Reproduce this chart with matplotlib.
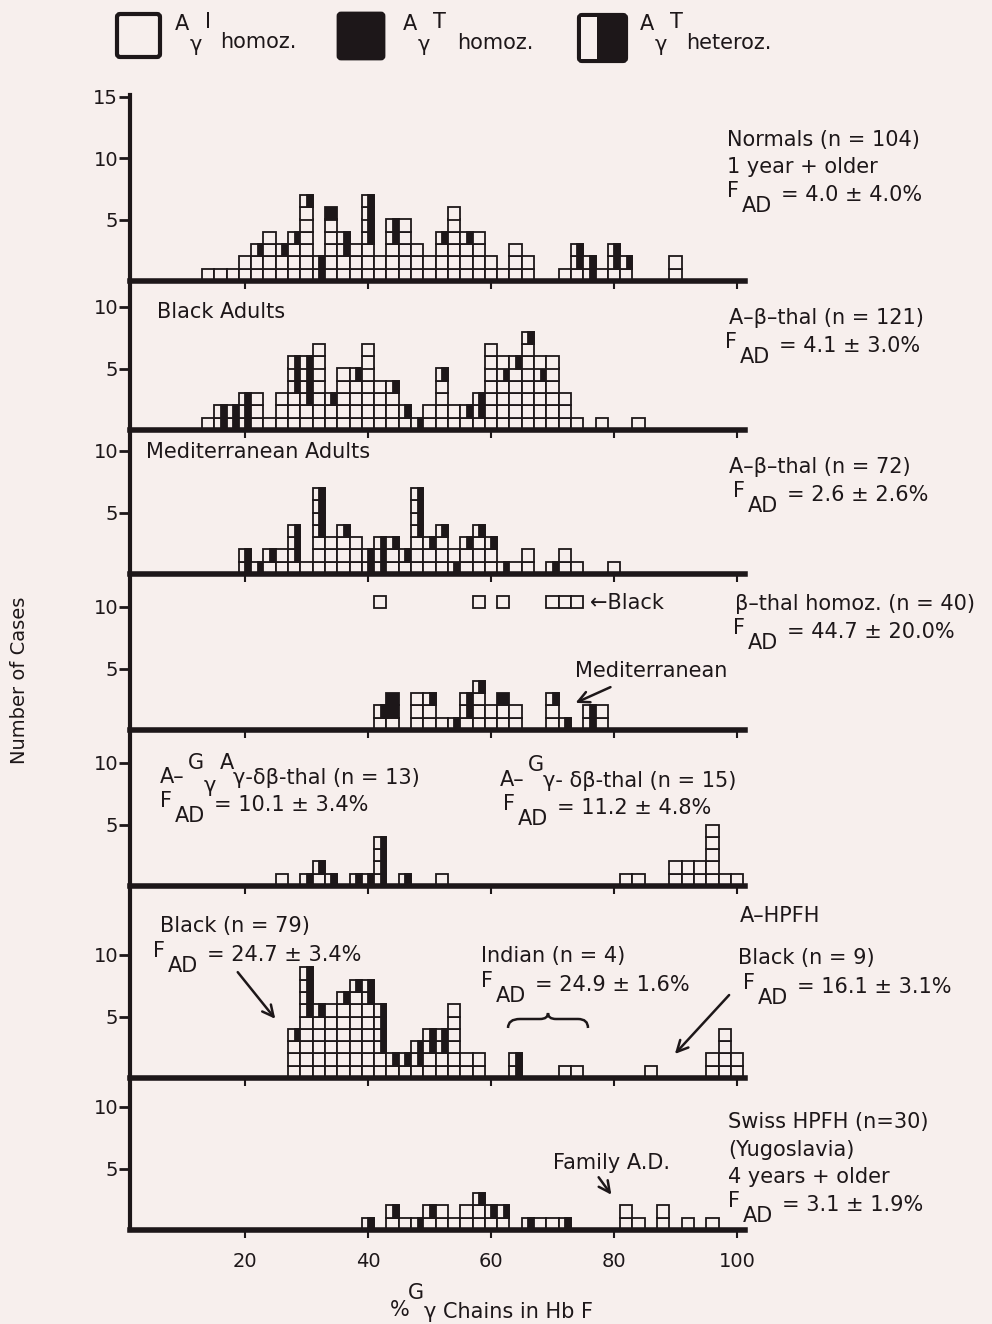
import matplotlib.pyplot as plt
from matplotlib.patches import Rectangle, FancyBboxPatch, PathPatch
from matplotlib.path import Path

plt.rcParams['font.family'] = ['DejaVu Sans']

BG = '#f7efed'
INK = '#1d1719'

# each string = one stacked column of cases, read bottom -> top
# W = Aγ-I homoz. (open), B = Aγ-T homoz. (filled), H = Aγ-T heteroz. (half)
# columns are 2 %-units wide starting at *_x0, '' = empty bin
normals_x0 = 13
normals_cols = ['W', 'W', 'W', 'WW', 'WWH', 'WWWW', 'WWH', 'WWWH', 'WWWWWWH', 'HH',
                'WWWWWB', 'WWHH', 'WWW', 'WWWHHHH', 'WW', 'WWWHH', 'WWWWW', 'WWW', 'WW',
                'WWWH', 'WWWWWW', 'WWWH', 'WWWW', 'WW', 'W', 'WWW', 'WW', '', '',
                'W', 'WHH', 'HH', 'W', 'WHH', 'WH', '', '', '', 'WW']

black_x0 = 13
black_cols = ['W', 'HH', 'HH', 'HHH', 'WWW', 'W', 'WWW', 'WWWHHH', 'WWHHHH', 'WWWWWWW',
              'WWH', 'WWWWW', 'WWWWH', 'WWWWWWW', 'WWWW', 'WWWH', 'WH', 'H', 'WW', 'WWWWH',
              'WW', 'WH', 'WHH', 'WWWWWWW', 'WWWWHW', 'WWWWWH', 'WWWWWWWH', 'WWWWHW',
              'WWWWWW', 'WWW', 'W', '', 'W', '', '', 'W']

med_x0 = 19
med_cols = ['HH', 'H', 'WH', 'WW', 'WHHH', 'W', 'WWWHHHH', 'WWW', 'WWWH', 'WWW', 'HH',
            'HHH', 'WWH', 'WH', 'WWWHHHH', 'WWH', 'WWWH', 'HW', 'WWH', 'WWWH', 'WWH', 'H',
            'W', 'WW', '', 'H', 'WW', 'W', '', '', 'W']

thal_x0 = 41
thal_cols = ['WH', 'WBB', '', 'WWW', 'WWH', 'W', 'H', 'WHH', 'WWWH', 'WW', 'WWB', 'WW',
             '', '', 'WWH', 'H', '', 'HH', 'WW']
thal_black_x = [41, 57, 61, 69, 71, 73]   # Black patients, drawn raised

dbthal_x0 = 25
dbthal_cols = (['W', '', 'H', 'WH', 'H', '', 'H', 'H', 'HHHH', '', 'H', '', '', 'W']
               + [''] * 14
               + ['W', 'W', '', '', 'WW', 'WW', 'WW', 'WWWWW', 'W', 'W'])

hpfh_x0 = 27
hpfh_cols = (['WWWH', 'WWWWWHHHH', 'WWWWWH', 'WWWWWW', 'WWWWWWH', 'WWWWWWWH', 'WWWWWWHH',
              'WWHHHH', 'WH', 'WH', 'WHH', 'WWHH', 'WWHH', 'WWWWWW', 'WW', 'WW',
              '', '', 'HH', '', '', '', 'W', 'W']
             + [''] * 5 + ['W'] + [''] * 4 + ['WW', 'WWWW', 'WW'])

swiss_x0 = 39
swiss_cols = ['H', '', 'WH', 'W', 'H', 'WH', 'WW', 'W', 'WW', 'WWH', 'WH', 'WH', '',
              'H', 'W', 'W', 'H', '', '', '', '', 'WW', 'W', '', 'WW', '', 'W', '', 'W']

x_ticks = [20, 40, 60, 80, 100]

W, H = 992, 1324
L, R = 130, 745
UNIT = 6.15  # px per % unit

fig = plt.figure(figsize=(W / 100, H / 100), dpi=100)
fig.patch.set_facecolor(BG)


def make_ax(top, bottom, yticks, xlabels=False):
    ax = fig.add_axes([L / W, 1 - bottom / H, (R - L) / W, (bottom - top) / H])
    ax.set_facecolor('none')
    ax.set_xlim(1.3, 1.3 + (R - L) / UNIT)
    ax.set_ylim(0, (bottom - top) / (2 * UNIT))
    for s in ['top', 'right']:
        ax.spines[s].set_visible(False)
    ax.spines['left'].set_linewidth(3)
    ax.spines['bottom'].set_linewidth(4)
    ax.spines['left'].set_color(INK)
    ax.spines['bottom'].set_color(INK)
    ax.set_yticks(yticks)
    ax.set_xticks(x_ticks)
    ax.tick_params(axis='y', length=8, width=2, labelsize=14, colors=INK, pad=0.5)
    ax.tick_params(axis='x', length=6, width=1.5, labelsize=14, colors=INK,
                   labelbottom=xlabels, pad=10)
    return ax


def cell(ax, x, y, c):
    ax.add_patch(Rectangle((x, y), 2, 1, facecolor=INK if c == 'B' else BG,
                           edgecolor=INK, lw=1.3, clip_on=False))
    if c == 'H':
        ax.add_patch(Rectangle((x + 1.05, y), 0.95, 1, facecolor=INK,
                               edgecolor=INK, lw=1.3, clip_on=False))


def draw_cols(ax, x0, cols):
    for i, col in enumerate(cols):
        for k, c in enumerate(col):
            cell(ax, x0 + 2 * i, k, c)


ax1 = make_ax(95, 281, [5, 10, 15])
draw_cols(ax1, normals_x0, normals_cols)
ax2 = make_ax(281, 430, [5, 10])
draw_cols(ax2, black_x0, black_cols)
ax3 = make_ax(430, 574, [5, 10])
draw_cols(ax3, med_x0, med_cols)
ax4 = make_ax(574, 730, [5, 10])
draw_cols(ax4, thal_x0, thal_cols)
for x in thal_black_x:
    cell(ax4, x, 9.9, 'W')
ax5 = make_ax(730, 886, [5, 10])
draw_cols(ax5, dbthal_x0, dbthal_cols)
ax6 = make_ax(886, 1078, [5, 10])
draw_cols(ax6, hpfh_x0, hpfh_cols)
ax7 = make_ax(1078, 1230, [5, 10], xlabels=True)
draw_cols(ax7, swiss_x0, swiss_cols)

# overlay in pixel coords for labels, legend, arrows
ov = fig.add_axes([0, 0, 1, 1], zorder=10)
ov.set_xlim(0, W)
ov.set_ylim(H, 0)
ov.axis('off')
ov.patch.set_alpha(0)


def txt(x, y, s, size=15, **kw):
    ov.text(x, y, s, fontsize=size, color=INK, va='center', ha='left', **kw)


def fad(x, y, rest, gap=54):
    txt(x, y - 4, 'F')
    txt(x + 15, y + 11, 'AD')
    txt(x + gap, y, rest)


def arrow(x0, y0, x1, y1):
    ov.annotate('', xy=(x1, y1), xytext=(x0, y0),
                arrowprops=dict(arrowstyle='->', lw=1.8, color=INK, mutation_scale=20))


# legend
ov.add_patch(FancyBboxPatch((117, 14), 43, 43, boxstyle='round,pad=0,rounding_size=3',
                            fc=BG, ec=INK, lw=3))
ov.add_patch(FancyBboxPatch((338, 13), 46, 46, boxstyle='round,pad=0,rounding_size=3',
                            fc=INK, ec=INK, lw=2))
ov.add_patch(FancyBboxPatch((579, 15), 47, 46, boxstyle='round,pad=0,rounding_size=3',
                            fc=INK, ec=INK, lw=3))
ov.add_patch(Rectangle((581, 17), 16, 42, fc=BG, ec='none'))
for x, sup in [(175, 'I'), (403, 'T'), (640, 'T')]:
    txt(x, 24, 'A')
    txt(x + 15, 45, 'γ')
    txt(x + 30, 22, sup)
txt(220, 42, 'homoz.')
txt(457, 43, 'homoz.')
txt(686, 43, 'heteroz.')

# panel 1
txt(727, 140, 'Normals (n = 104)')
txt(727, 167, '1 year + older')
fad(727, 195, '= 4.0 ± 4.0%')
# panel 2
txt(157, 312, 'Black Adults')
txt(729, 318, 'A–β–thal (n = 121)')
fad(725, 346, '= 4.1 ± 3.0%')
# panel 3
txt(146, 452, 'Mediterranean Adults')
txt(729, 467, 'A–β–thal (n = 72)')
fad(733, 495, '= 2.6 ± 2.6%')
# panel 4
txt(590, 603, '←Black')
txt(735, 604, 'β–thal homoz. (n = 40)')
fad(733, 632, '= 44.7 ± 20.0%')
txt(575, 671, 'Mediterranean')
arrow(613, 686, 573, 704)
# panel 5
txt(160, 777, 'A–')
txt(188, 763, 'G')
txt(204, 786, 'γ')
txt(220, 763, 'A')
txt(233, 778, 'γ-δβ-thal (n = 13)')
fad(160, 805, '= 10.1 ± 3.4%')
txt(500, 780, 'A–')
txt(528, 765, 'G')
txt(543, 781, 'γ- δβ-thal (n = 15)')
fad(503, 808, '= 11.2 ± 4.8%')
# panel 6
txt(740, 916, 'A–HPFH')
txt(160, 926, 'Black (n = 79)')
fad(153, 955, '= 24.7 ± 3.4%')
arrow(236, 970, 277, 1021)
txt(481, 956, 'Indian (n = 4)')
fad(481, 985, '= 24.9 ± 1.6%')
brace = Path([(508, 1028), (508, 1019), (520, 1019), (540, 1019), (548, 1019), (548, 1013),
              (548, 1019), (556, 1019), (578, 1019), (588, 1019), (588, 1028)],
             [Path.MOVETO, Path.CURVE3, Path.CURVE3, Path.LINETO, Path.CURVE3, Path.CURVE3,
              Path.CURVE3, Path.CURVE3, Path.LINETO, Path.CURVE3, Path.CURVE3])
ov.add_patch(PathPatch(brace, fc='none', ec=INK, lw=1.8))
txt(738, 958, 'Black (n = 9)')
fad(743, 987, '= 16.1 ± 3.1%')
arrow(731, 993, 673, 1056)
# panel 7
txt(728, 1122, 'Swiss HPFH (n=30)')
txt(728, 1150, '(Yugoslavia)')
txt(728, 1177, '4 years + older')
fad(728, 1205, '= 3.1 ± 1.9%')
txt(553, 1163, 'Family A.D.')
arrow(597, 1175, 613, 1197)

# axis titles
ov.text(20, 680, 'Number of Cases', rotation=90, fontsize=14, color=INK,
        ha='center', va='center')
txt(390, 1310, '%')
txt(408, 1293, 'G')
txt(424, 1312, 'γ Chains in Hb F')

fig.savefig('out.png', dpi=100, facecolor=BG)
